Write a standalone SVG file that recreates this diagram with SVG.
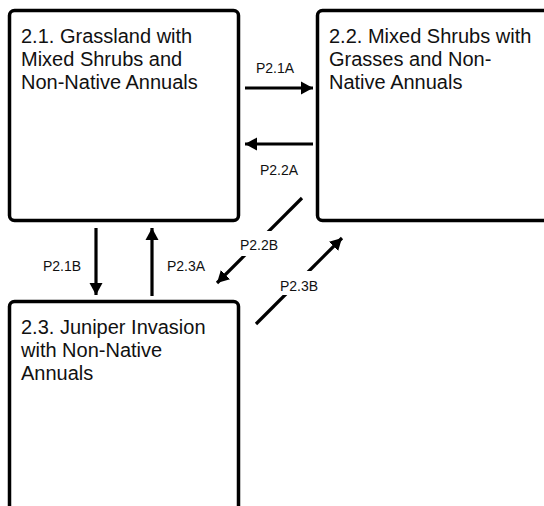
<svg xmlns="http://www.w3.org/2000/svg" width="544" height="506" viewBox="0 0 544 506">
<style>
.box{fill:#fff;stroke:#000;stroke-width:3.5}
.t{font-family:"Liberation Sans",Arial,sans-serif;font-size:20px;fill:#111}
.lbl{font-family:"Liberation Sans",Arial,sans-serif;font-size:14px;fill:#111;text-anchor:middle}
.c{stroke:#000;stroke-width:3.2;fill:none;marker-end:url(#ah)}
.bg{fill:#fff}
</style>
<defs>
<marker id="ah" markerUnits="userSpaceOnUse" markerWidth="13" markerHeight="14" refX="12" refY="7" orient="auto">
<path d="M0,0.5 L12,7 L0,13.5 Z" fill="#000"/>
</marker>
</defs>
<rect width="544" height="506" fill="#fff"/>
<g id="n21">
<rect class="box" x="9.5" y="10.5" width="229" height="210" rx="5"/>
<text class="t" x="21" y="43">2.1. Grassland with</text>
<text class="t" x="21" y="66">Mixed Shrubs and</text>
<text class="t" x="21" y="89">Non-Native Annuals</text>
</g>
<g id="n22">
<rect class="box" x="317.5" y="10.5" width="240" height="210" rx="5"/>
<text class="t" x="329" y="43">2.2. Mixed Shrubs with</text>
<text class="t" x="329" y="66">Grasses and Non-</text>
<text class="t" x="329" y="89">Native Annuals</text>
</g>
<g id="n23">
<rect class="box" x="9.5" y="301.5" width="229" height="230" rx="5"/>
<text class="t" x="21" y="334">2.3. Juniper Invasion</text>
<text class="t" x="21" y="357">with Non-Native</text>
<text class="t" x="21" y="380">Annuals</text>
</g>
<g id="connectors">
<line class="c" x1="245" y1="88" x2="313" y2="88"/>
<text class="lbl" x="275" y="73">P2.1A</text>
<line class="c" x1="313" y1="144" x2="245" y2="144"/>
<text class="lbl" x="279" y="175">P2.2A</text>
<line class="c" x1="96" y1="228" x2="96" y2="295"/>
<text class="lbl" x="62" y="271">P2.1B</text>
<line class="c" x1="152" y1="296" x2="152" y2="228"/>
<text class="lbl" x="186" y="271">P2.3A</text>
<line class="c" x1="302" y1="198" x2="217" y2="283"/>
<rect class="bg" x="238" y="231" width="42" height="25"/>
<text class="lbl" x="259" y="250">P2.2B</text>
<line class="c" x1="256" y1="324" x2="342" y2="238"/>
<rect class="bg" x="278" y="271" width="42" height="24"/>
<text class="lbl" x="299" y="291">P2.3B</text>
</g>
</svg>
